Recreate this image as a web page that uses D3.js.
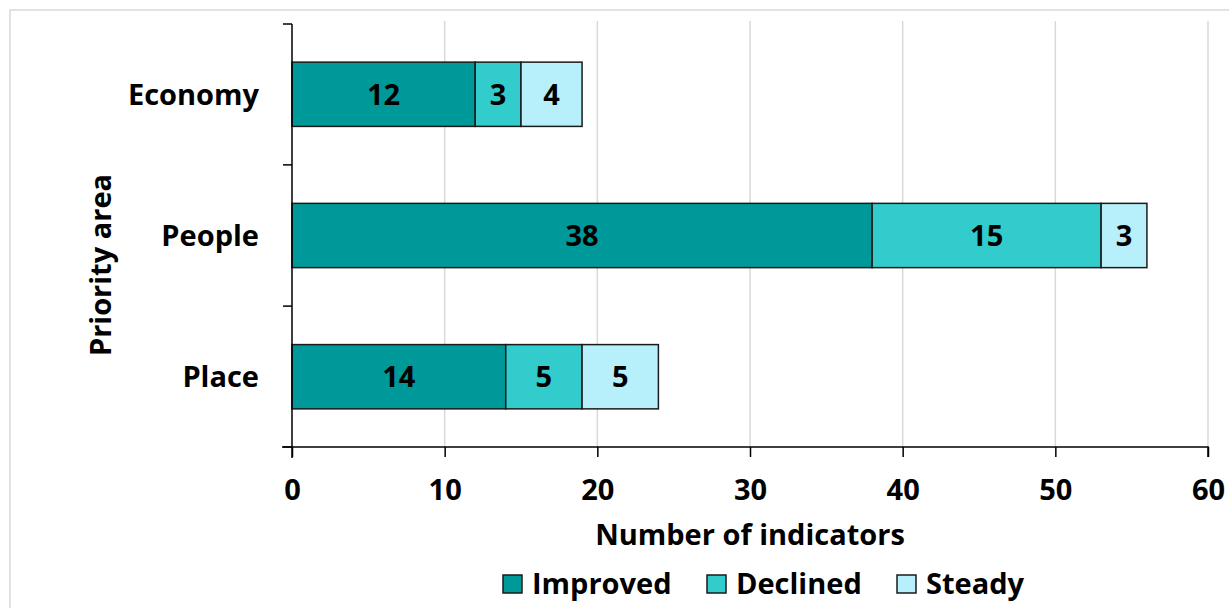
<!DOCTYPE html>
<html>
<head>
<meta charset="utf-8">
<script src="https://cdn.jsdelivr.net/npm/d3@7"></script>
<style>
  body { margin: 0; background: #fff; }
  svg text { font-family: "Open Sans", Lato, sans-serif; font-weight: bold; fill: #000; }
</style>
</head>
<body>
<div class="grafico"></div>
<script>
// dados do gráfico
var areas = ["Economy", "People", "Place"];
var series = ["Improved", "Declined", "Steady"];
var improved = [12, 38, 14];
var declined = [3, 15, 5];
var steady = [4, 3, 5];
var xTicks = [0, 10, 20, 30, 40, 50, 60];
var cores = ["#009999", "#33cccc", "#b7f0fb"];

var width = 1229, height = 608;
var fonte = "29px";

var svg = d3.select(".grafico")
  .append("svg")
    .attr("width", width)
    .attr("height", height);

// moldura externa
svg.append("rect")
  .attr("x", 10).attr("y", 10)
  .attr("width", width + 20).attr("height", height + 20)
  .attr("fill", "none")
  .attr("stroke", "#d9d9d9")
  .attr("stroke-width", 1.5);

var x = d3.scaleLinear().domain([0, 60]).range([292, 1208]);
var y = d3.scaleBand().domain(areas).range([24, 447]).paddingInner(0.545).paddingOuter(0.27);

// linhas de grade
svg.append("g")
  .selectAll("line")
  .data(xTicks.slice(1))
  .enter().append("line")
    .attr("x1", function(d){ return x(d); })
    .attr("x2", function(d){ return x(d); })
    .attr("y1", 21).attr("y2", 447)
    .attr("stroke", "#d9d9d9")
    .attr("stroke-width", 1.5);

// empilhamento
var linhas = areas.map(function(a, i){
  return { area: a, Improved: improved[i], Declined: declined[i], Steady: steady[i] };
});
var pilha = d3.stack().keys(series)(linhas);

var grupos = svg.append("g")
  .selectAll("g")
  .data(pilha)
  .enter().append("g")
    .attr("fill", function(d, i){ return cores[i]; });

grupos.selectAll("rect")
  .data(function(d){ return d; })
  .enter().append("rect")
    .attr("x", function(d){ return x(d[0]); })
    .attr("y", function(d){ return y(d.data.area); })
    .attr("width", function(d){ return x(d[1]) - x(d[0]); })
    .attr("height", y.bandwidth())
    .attr("stroke", "#1a1a1a")
    .attr("stroke-width", 1.5);

grupos.selectAll("text")
  .data(function(d){ return d; })
  .enter().append("text")
    .attr("x", function(d){ return (x(d[0]) + x(d[1])) / 2; })
    .attr("y", function(d){ return y(d.data.area) + y.bandwidth() / 2; })
    .attr("dy", "0.36em")
    .attr("text-anchor", "middle")
    .style("font-size", fonte)
    .text(function(d){ return d[1] - d[0]; });

// eixo x
var eixoX = svg.append("g")
  .attr("transform", "translate(0,447)")
  .call(d3.axisBottom(x).tickValues(xTicks).tickSize(10).tickPadding(22));
eixoX.select(".domain").attr("d", "M282,0H1208V10").attr("stroke", "#000").attr("stroke-width", 1.5);
eixoX.selectAll(".tick line").attr("stroke", "#000").attr("stroke-width", 1.5);
eixoX.selectAll(".tick text").style("font-size", fonte);

// eixo y
var eixoY = svg.append("g")
  .attr("transform", "translate(292,0)");
eixoY.append("line")
  .attr("x1", 0).attr("x2", 0).attr("y1", 24).attr("y2", 458)
  .attr("stroke", "#000").attr("stroke-width", 1.5);
var limites = [24].concat(areas.map(function(a){ return y(a) + y.bandwidth() + y.step() * y.paddingInner() / 2; }));
limites[3] = 447;
eixoY.selectAll("line.t")
  .data(limites)
  .enter().append("line")
    .attr("class", "t")
    .attr("x1", -9).attr("x2", 0)
    .attr("y1", function(d){ return d; })
    .attr("y2", function(d){ return d; })
    .attr("stroke", "#000").attr("stroke-width", 1.5);
eixoY.selectAll("text")
  .data(areas)
  .enter().append("text")
    .attr("x", -33)
    .attr("y", function(d){ return y(d) + y.bandwidth() / 2; })
    .attr("dy", "0.36em")
    .attr("text-anchor", "end")
    .style("font-size", fonte)
    .text(function(d){ return d; });

// títulos dos eixos
svg.append("text")
  .attr("x", 750).attr("y", 545)
  .attr("text-anchor", "middle")
  .style("font-size", fonte)
  .text("Number of indicators");

svg.append("text")
  .attr("transform", "translate(111,265) rotate(-90)")
  .attr("text-anchor", "middle")
  .style("font-size", fonte)
  .text("Priority area");

// legenda
var legX = [503, 707, 897];
var leg = svg.append("g")
  .selectAll("g")
  .data(series)
  .enter().append("g")
    .attr("transform", function(d, i){ return "translate(" + legX[i] + ",575)"; });
leg.append("rect")
  .attr("width", 19).attr("height", 18)
  .attr("fill", function(d, i){ return cores[i]; })
  .attr("stroke", "#1a1a1a").attr("stroke-width", 1.5);
leg.append("text")
  .attr("x", 29).attr("y", 19)
  .style("font-size", fonte)
  .text(function(d){ return d; });
</script>
</body>
</html>
